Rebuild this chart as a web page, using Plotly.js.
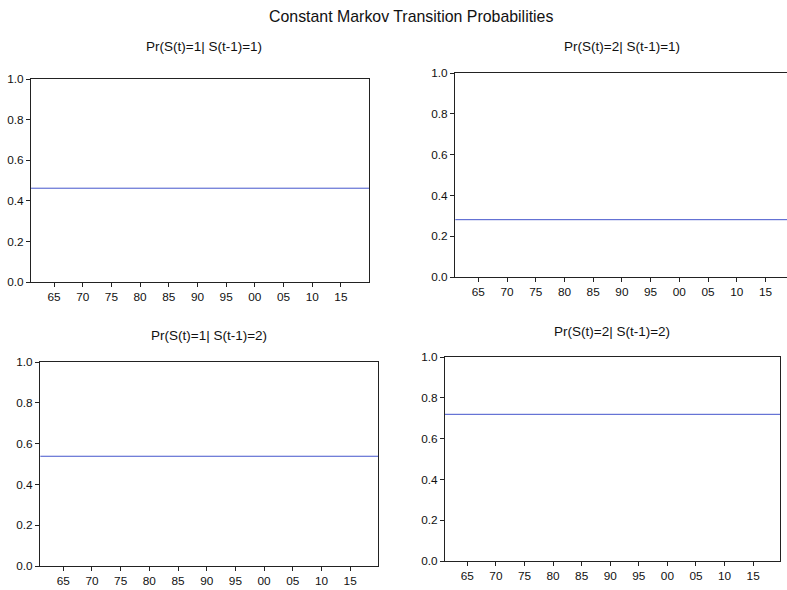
<!DOCTYPE html>
<html>
<head>
<meta charset="utf-8">
<script src="https://cdn.plot.ly/plotly-3.0.1.min.js"></script>
<style>html,body{margin:0;padding:0;background:#fff;}#chart{width:787px;height:590px;}</style>
</head>
<body>
<div id="chart"></div>
<script>
// Data
var years = [1961, 2020];
var p11 = [0.462, 0.462];   // Pr(S(t)=1| S(t-1)=1)
var p21 = [0.281, 0.281];   // Pr(S(t)=2| S(t-1)=1)
var p12 = [0.538, 0.538];   // Pr(S(t)=1| S(t-1)=2)
var p22 = [0.719, 0.719];   // Pr(S(t)=2| S(t-1)=2)
var tickYears = [1965, 1970, 1975, 1980, 1985, 1990, 1995, 2000, 2005, 2010, 2015];
var tickLabels = ['65', '70', '75', '80', '85', '90', '95', '00', '05', '10', '15'];
var yTicks = [0, 0.2, 0.4, 0.6, 0.8, 1.0];
var panelTitles = ['Pr(S(t)=1| S(t-1)=1)', 'Pr(S(t)=2| S(t-1)=1)', 'Pr(S(t)=1| S(t-1)=2)', 'Pr(S(t)=2| S(t-1)=2)'];
var mainTitle = 'Constant Markov Transition Probabilities';

var W = 787, H = 590;
function dx(a, b) { return [a / W, b / W]; }
function dy(top, bottom) { return [1 - bottom / H, 1 - top / H]; }

var FONT = 'Liberation Sans, Arial, sans-serif';
var lineColor = '#4455cc';
var axisColor = '#222222';

var series = [p11, p21, p12, p22];
var traces = series.map(function (s, i) {
  var n = i === 0 ? '' : String(i + 1);
  return {
    x: years, y: s, type: 'scatter', mode: 'lines',
    line: { color: lineColor, width: 1 },
    xaxis: 'x' + n, yaxis: 'y' + n, hoverinfo: 'skip', showlegend: false
  };
});

function xax(domain, range, anchor, mirror) {
  return {
    domain: domain, range: range, anchor: anchor,
    tickmode: 'array', tickvals: tickYears, ticktext: tickLabels,
    ticks: 'outside', ticklen: 4, tickwidth: 1, tickcolor: axisColor,
    showline: true, linecolor: axisColor, linewidth: 1, mirror: mirror,
    showgrid: false, zeroline: false, fixedrange: true,
    tickfont: { family: FONT, size: 11.8, color: '#111' }
  };
}
function yax(domain, anchor, mirror) {
  return {
    domain: domain, range: [0, 1], anchor: anchor,
    tickmode: 'array', tickvals: yTicks, tickformat: '.1f',
    ticks: 'outside', ticklen: 4, tickwidth: 1, tickcolor: axisColor,
    showline: true, linecolor: axisColor, linewidth: 1, mirror: mirror,
    showgrid: false, zeroline: false, fixedrange: true,
    tickfont: { family: FONT, size: 11.8, color: '#111' }
  };
}

var layout = {
  width: W, height: H,
  margin: { l: 0, r: 0, t: 0, b: 0 },
  paper_bgcolor: '#ffffff', plot_bgcolor: '#ffffff',
  showlegend: false,
  xaxis:  xax(dx(31, 369), [1960.99, 2019.9], 'y', true),
  yaxis:  yax(dy(79, 282), 'x', true),
  xaxis2: xax(dx(455, 787), [1960.94, 2018.75], 'y2', true),
  yaxis2: yax(dy(73, 277), 'x2', false),
  xaxis3: xax(dx(40, 378), [1960.94, 2019.85], 'y3', true),
  yaxis3: yax(dy(362, 566), 'x3', true),
  xaxis4: xax(dx(445, 780), [1961.1, 2019.7], 'y4', true),
  yaxis4: yax(dy(357, 561), 'x4', true),
  annotations: [
    { text: mainTitle, x: 411 / W, y: 1 - 17 / H, xref: 'paper', yref: 'paper', xanchor: 'center', yanchor: 'middle', showarrow: false, font: { family: FONT, size: 15.9, color: '#111' } },
    { text: panelTitles[0], x: 204 / W, y: 1 - 47 / H, xref: 'paper', yref: 'paper', xanchor: 'center', yanchor: 'middle', showarrow: false, font: { family: FONT, size: 13.5, color: '#111' } },
    { text: panelTitles[1], x: 622 / W, y: 1 - 47 / H, xref: 'paper', yref: 'paper', xanchor: 'center', yanchor: 'middle', showarrow: false, font: { family: FONT, size: 13.5, color: '#111' } },
    { text: panelTitles[2], x: 209 / W, y: 1 - 335 / H, xref: 'paper', yref: 'paper', xanchor: 'center', yanchor: 'middle', showarrow: false, font: { family: FONT, size: 13.5, color: '#111' } },
    { text: panelTitles[3], x: 612 / W, y: 1 - 331 / H, xref: 'paper', yref: 'paper', xanchor: 'center', yanchor: 'middle', showarrow: false, font: { family: FONT, size: 13.5, color: '#111' } }
  ]
};

Plotly.newPlot('chart', traces, layout, { staticPlot: true, displayModeBar: false });
</script>
</body>
</html>
